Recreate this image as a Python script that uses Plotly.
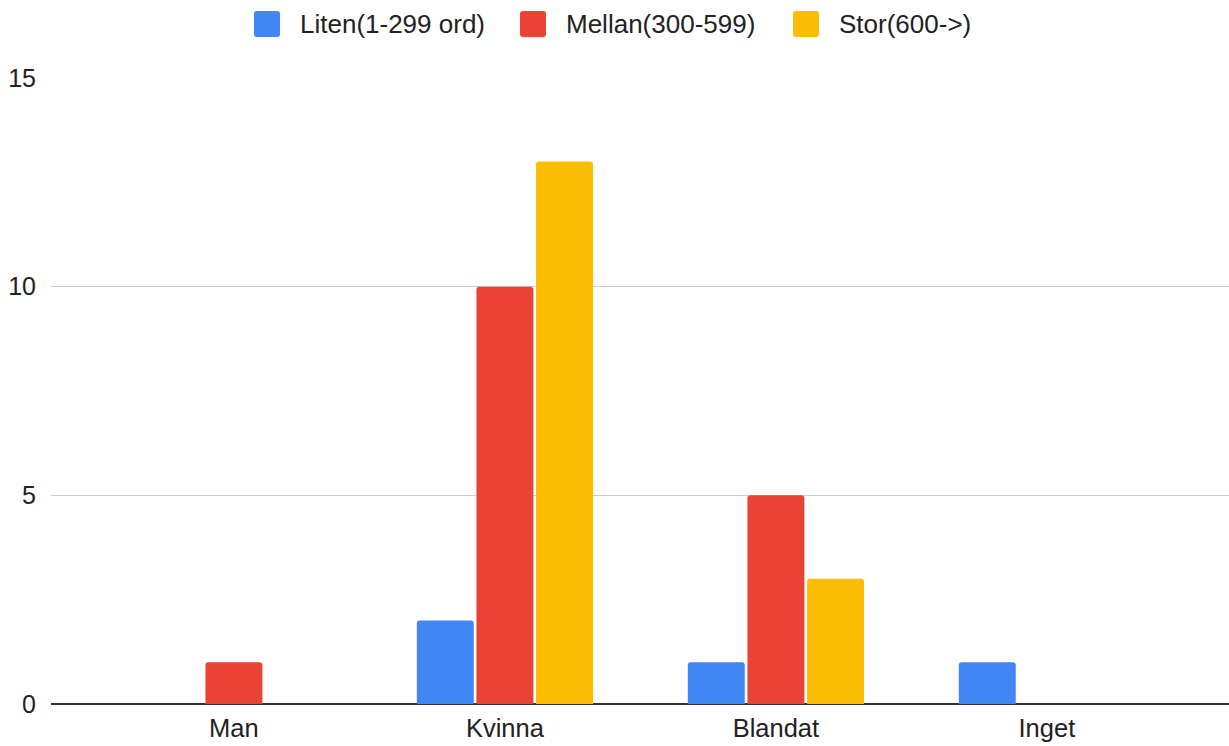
import plotly.graph_objects as go

categories = ["Man", "Kvinna", "Blandat", "Inget"]
liten = [0, 2, 1, 1]
mellan = [1, 10, 5, 0]
stor = [0, 13, 3, 0]

series_names = ["Liten(1-299 ord)", "Mellan(300-599)", "Stor(600->)"]
colors = ["#4285F4", "#EA4335", "#FBBC04"]

W, H = 1229, 746
M_L, M_R, M_T, M_B = 51, 0, 78, 42
plot_w = W - M_L - M_R
plot_h = H - M_T - M_B

fig = go.Figure()
for name, vals, col in zip(series_names, [liten, mellan, stor], colors):
    fig.add_trace(go.Bar(
        x=categories, y=vals, name=name, showlegend=False,
        marker=dict(color=col, line=dict(width=0), cornerradius=3),
    ))


def px_to_paper_x(px):
    return (px - M_L) / plot_w


def px_to_paper_y(py):
    return (H - M_B - py) / plot_h


# Legend row: rounded swatches with labels, laid out in pixels across the top
swatch_left = [254, 520, 793]
swatch_size = 26
legend_cy = 24
r = 3
shapes = []
annotations = []
for left, name, col in zip(swatch_left, series_names, colors):
    x0, x1 = left, left + swatch_size
    y0, y1 = legend_cy - swatch_size / 2, legend_cy + swatch_size / 2
    X0, X1 = px_to_paper_x(x0), px_to_paper_x(x1)
    Y0, Y1 = px_to_paper_y(y1), px_to_paper_y(y0)
    rx, ry = r / plot_w, r / plot_h
    path = (
        f"M{X0+rx},{Y0} L{X1-rx},{Y0} Q{X1},{Y0} {X1},{Y0+ry} "
        f"L{X1},{Y1-ry} Q{X1},{Y1} {X1-rx},{Y1} "
        f"L{X0+rx},{Y1} Q{X0},{Y1} {X0},{Y1-ry} "
        f"L{X0},{Y0+ry} Q{X0},{Y0} {X0+rx},{Y0} Z"
    )
    shapes.append(dict(type="path", xref="paper", yref="paper", path=path,
                       fillcolor=col, line=dict(width=0), layer="above"))
    annotations.append(dict(
        text=name, xref="paper", yref="paper",
        x=px_to_paper_x(x1 + 18), y=px_to_paper_y(legend_cy),
        xanchor="left", yanchor="middle", showarrow=False,
        font=dict(size=26, color="#222222"),
    ))

font_family = "Liberation Sans, Arial, sans-serif"
fig.update_layout(
    width=W, height=H,
    margin=dict(l=M_L, r=M_R, t=M_T, b=M_B),
    paper_bgcolor="white", plot_bgcolor="white",
    barmode="group", bargap=0.34, bargroupgap=0.045,
    font=dict(family=font_family, size=25, color="#222222"),
    showlegend=False,
    shapes=shapes,
    annotations=annotations,
    xaxis=dict(
        range=[-0.675, 3.672], showgrid=False, showline=False,
        ticks="", tickfont=dict(size=25.5), ticklabelstandoff=6,
    ),
    yaxis=dict(
        range=[0, 15], tickvals=[0, 5, 10, 15], showgrid=True,
        gridcolor="#CCCCCC", gridwidth=1, zeroline=True,
        zerolinecolor="#333333", zerolinewidth=2, showline=False,
        ticks="", tickfont=dict(size=25), ticklabelstandoff=14,
    ),
)

fig.write_html("out.html")
